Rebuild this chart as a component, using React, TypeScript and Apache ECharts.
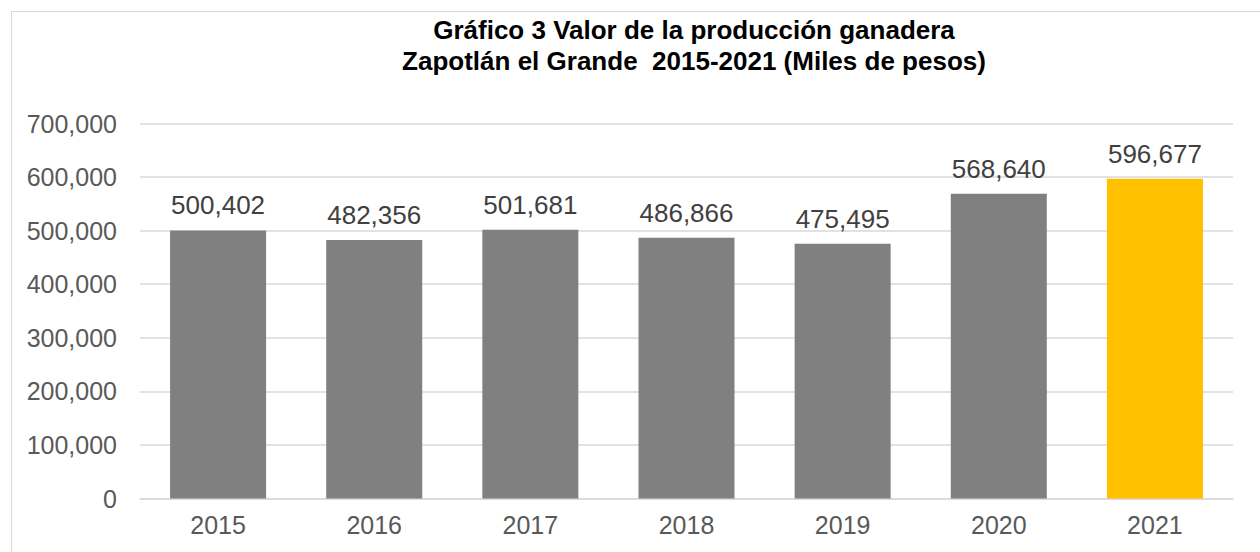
import React, { useEffect, useRef } from "react";
import * as echarts from "echarts";

const categories = ["2015", "2016", "2017", "2018", "2019", "2020", "2021"];
const values = [500402, 482356, 501681, 486866, 475495, 568640, 596677];
const barColors = ["#808080", "#808080", "#808080", "#808080", "#808080", "#808080", "#FFC000"];
const titleLines = ["Gráfico 3 Valor de la producción ganadera", "Zapotlán el Grande  2015-2021 (Miles de pesos)"];

const fmt = (v: number) => v.toLocaleString("en-US");

export default function App() {
  const ref = useRef<HTMLDivElement>(null);
  useEffect(() => {
    document.body.style.margin = "0";
    const chart = echarts.init(ref.current!, undefined, { renderer: "svg" });
    chart.setOption({
      animation: false,
      backgroundColor: "#ffffff",
      textStyle: { fontFamily: "'Liberation Sans', Arial, sans-serif" },
      graphic: [
        {
          type: "rect",
          left: 9,
          top: 9,
          shape: { width: 1400, height: 700 },
          style: { fill: "none", stroke: "#d9d9d9", lineWidth: 1 },
          silent: true,
        },
        {
          type: "text",
          x: 694,
          y: 14,
          style: {
            text: titleLines.join("\n"),
            fill: "#000000",
            font: "bold 26px 'Liberation Sans', Arial, sans-serif",
            lineHeight: 31,
            align: "center",
            verticalAlign: "top",
          },
        },
      ],
      grid: { left: 140, right: 27, top: 123.5, bottom: 53.5, containLabel: false },
      xAxis: {
        type: "category",
        data: categories,
        axisLine: { show: true, lineStyle: { color: "#d9d9d9", width: 1.5 } },
        axisTick: { show: false },
        axisLabel: { color: "#595959", fontSize: 25, margin: 14, fontFamily: "'Liberation Sans', Arial, sans-serif" },
      },
      yAxis: {
        type: "value",
        min: 0,
        max: 700000,
        interval: 100000,
        axisLine: { show: false },
        axisTick: { show: false },
        splitLine: { lineStyle: { color: "#d9d9d9", width: 1.5 } },
        axisLabel: {
          color: "#595959",
          fontSize: 25,
          margin: 23,
          fontFamily: "'Liberation Sans', Arial, sans-serif",
          formatter: (v: number) => fmt(v),
        },
      },
      series: [
        {
          type: "bar",
          barWidth: "61.5%",
          data: values.map((v, i) => ({ value: v, itemStyle: { color: barColors[i] } })),
          label: {
            show: true,
            position: "top",
            distance: 12,
            color: "#404040",
            fontSize: 26,
            fontFamily: "'Liberation Sans', Arial, sans-serif",
            formatter: (p: any) => fmt(p.value),
          },
        },
      ],
    });
    return () => chart.dispose();
  }, []);
  return <div ref={ref} style={{ width: 1260, height: 552 }} />;
}
